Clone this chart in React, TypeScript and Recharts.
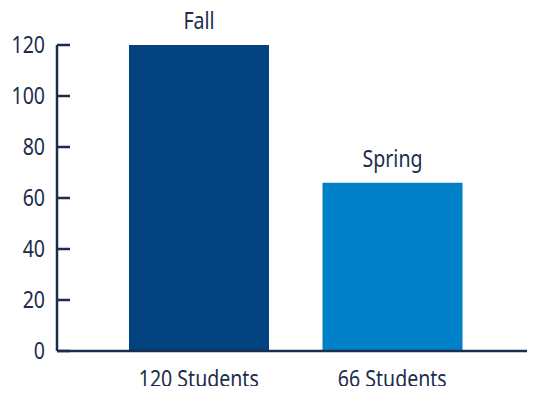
import React from "react";
import { BarChart, Bar, XAxis, YAxis, Cell, LabelList } from "recharts";

const terms = ["Fall", "Spring"];
const studentLabels = ["120 Students", "66 Students"];
const studentCounts = [120, 66];
const yTicks = [0, 20, 40, 60, 80, 100, 120];
const barColors = ["#02427f", "#0080c6"];

const data = terms.map((t, i) => ({ term: t, label: studentLabels[i], value: studentCounts[i] }));

const FONT = "'Noto Sans', sans-serif";
const TEXT = "#1c2d4c";
const AXIS = "#1b2d4f";
const FS = 23;
const SX = 0.85;

const NarrowText = ({ x, y, anchor, children }: any) => (
  <text
    transform={`translate(${x},${y}) scale(${SX},1)`}
    x={0}
    y={0}
    textAnchor={anchor}
    fill={TEXT}
    fontSize={FS}
    fontFamily={FONT}
  >
    {children}
  </text>
);

const YTick = (props: any) => {
  const { x, y, payload } = props;
  return (
    <g>
      <line x1={x + 12} x2={x + 25} y1={y} y2={y} stroke={AXIS} strokeWidth={2.5} />
      <NarrowText x={x} y={y + 8} anchor="end">
        {payload.value}
      </NarrowText>
    </g>
  );
};

const XTick = (props: any) => {
  const { x, payload } = props;
  return (
    <NarrowText x={x} y={387} anchor="middle">
      {payload.value}
    </NarrowText>
  );
};

const TopLabel = (props: any) => {
  const { x, y, width, value } = props;
  return (
    <NarrowText x={x + width / 2} y={y - 16} anchor="middle">
      {value}
    </NarrowText>
  );
};

export default function App() {
  return (
    <div style={{ margin: -8, width: 538, height: 394, background: "#fff" }}>
      <BarChart width={538} height={394} data={data} margin={{ top: 45, right: 11, bottom: 0, left: 0 }}>
        <YAxis
          domain={[0, 120]}
          ticks={yTicks}
          width={57}
          tickSize={0}
          tickMargin={12}
          axisLine={{ stroke: AXIS, strokeWidth: 2.5 }}
          tick={<YTick />}
          interval={0}
        />
        <XAxis
          dataKey="label"
          height={43}
          padding={{ left: 45, right: 38 }}
          tickLine={false}
          tickSize={0}
          axisLine={{ stroke: AXIS, strokeWidth: 2.5 }}
          tick={<XTick />}
          interval={0}
        />
        <Bar dataKey="value" barSize={140} isAnimationActive={false}>
          {data.map((d, i) => (
            <Cell key={d.term} fill={barColors[i]} />
          ))}
          <LabelList dataKey="term" content={<TopLabel />} />
        </Bar>
      </BarChart>
    </div>
  );
}
